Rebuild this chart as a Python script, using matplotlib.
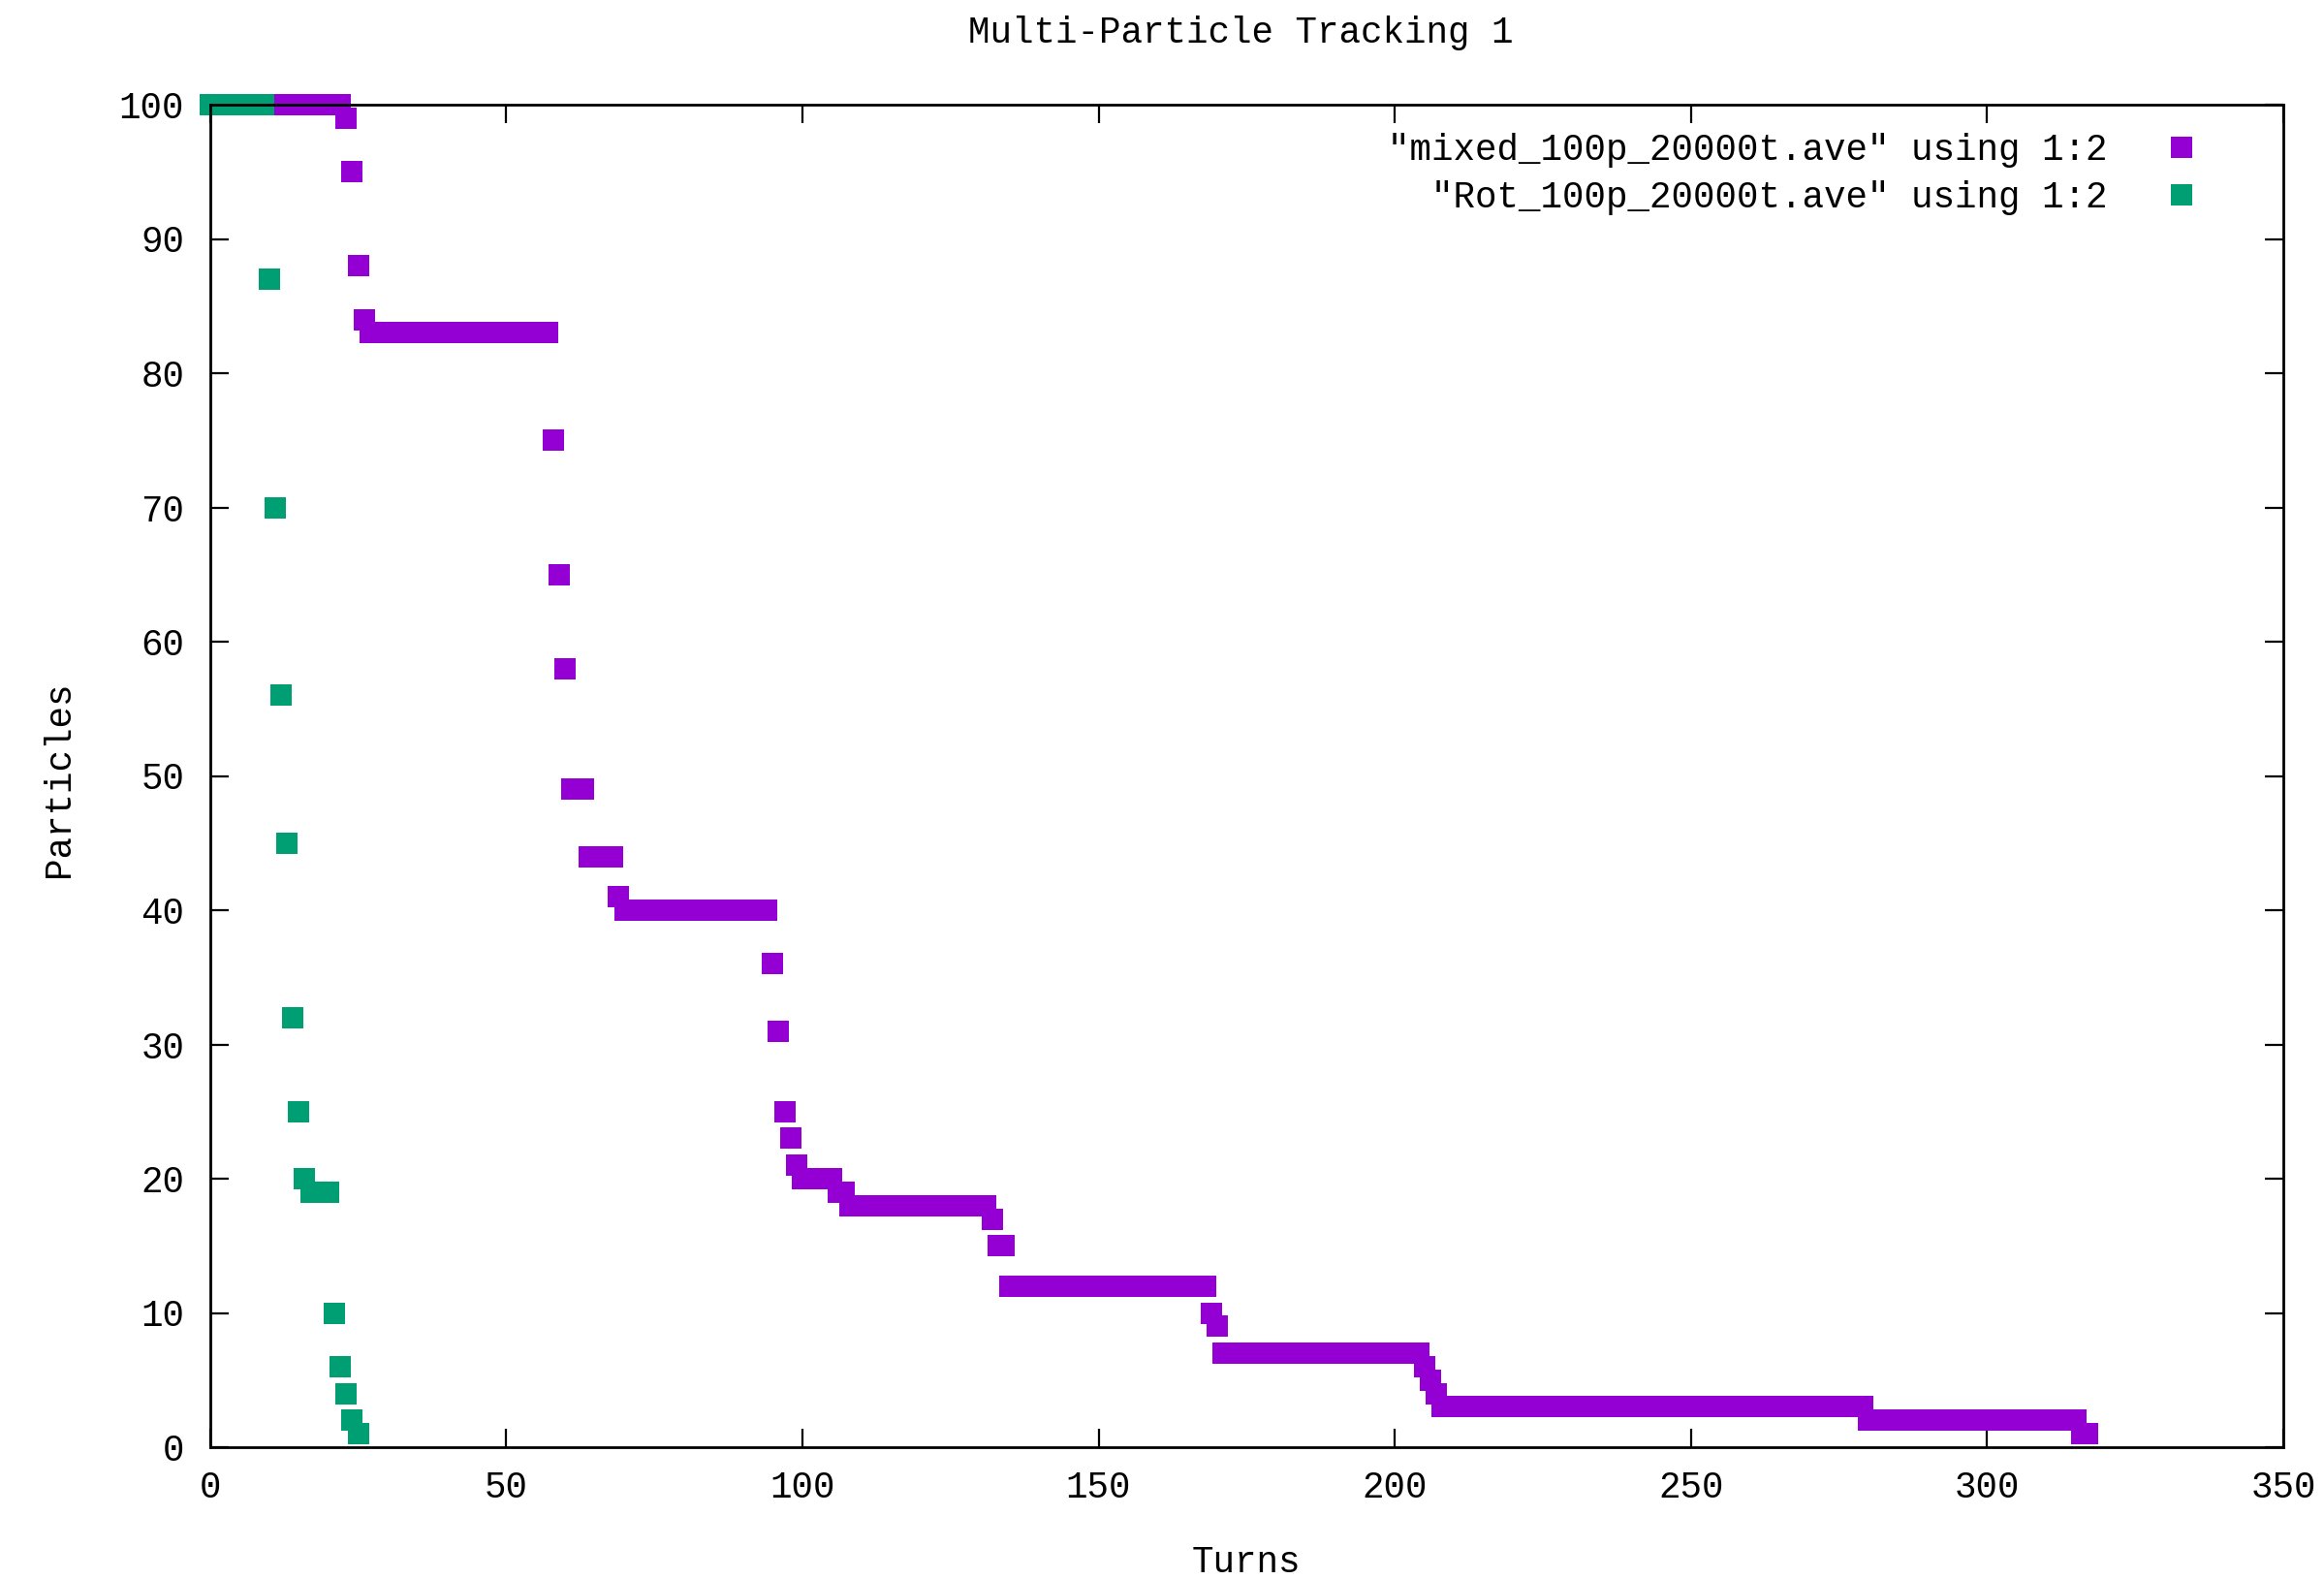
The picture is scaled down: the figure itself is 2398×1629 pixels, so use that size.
import numpy as np
import matplotlib
matplotlib.use("Agg")
import matplotlib.pyplot as plt

# ---- data (step levels and the turn each level starts) ----
mixed_label = '"mixed_100p_20000t.ave" using 1:2'
mixed_step_turns = [0, 23, 24, 25, 26, 27, 58, 59, 60, 61, 64, 69, 70, 95, 96, 97,
                    98, 99, 100, 106, 108, 132, 133, 135, 169, 170, 171, 205, 206,
                    207, 208, 280, 316]
mixed_step_levels = [100, 99, 95, 88, 84, 83, 75, 65, 58, 49, 44, 41, 40, 36, 31, 25,
                     23, 21, 20, 19, 18, 17, 15, 12, 10, 9, 7, 6, 5, 4, 3, 2, 1]
mixed_last_turn = 317

rot_label = '  "Rot_100p_20000t.ave" using 1:2'
rot_step_turns = [0, 10, 11, 12, 13, 14, 15, 16, 17, 21, 22, 23, 24, 25]
rot_step_levels = [100, 87, 70, 56, 45, 32, 25, 20, 19, 10, 6, 4, 2, 1]
rot_last_turn = 25

x_ticks = [0, 50, 100, 150, 200, 250, 300, 350]
y_ticks = [0, 10, 20, 30, 40, 50, 60, 70, 80, 90, 100]

title = "Multi-Particle Tracking 1"
xlabel = "Turns"
ylabel = "Particles"


def expand(starts, levels, last):
    """Decode run-length steps into one (turn, count) pair per turn."""
    ends = list(starts[1:]) + [last + 1]
    t, v = [], []
    for s, e, lv in zip(starts, ends, levels):
        for k in range(s, e):
            t.append(k)
            v.append(lv)
    return np.array(t), np.array(v)


mx, my = expand(mixed_step_turns, mixed_step_levels, mixed_last_turn)
rx, ry = expand(rot_step_turns, rot_step_levels, rot_last_turn)

plt.rcParams['font.family'] = ['Liberation Mono', 'DejaVu Sans Mono']
FS = 27

W, H = 2398, 1629
fig = plt.figure(figsize=(W / 100, H / 100), dpi=100)
left, right, top, bottom = 216.7, 2356, 108, 1493
ax = fig.add_axes([left / W, 1 - bottom / H, (right - left) / W, (bottom - top) / H])

purple = '#9400D3'
green = '#009E73'
ms = 16
ax.plot(mx, my, linestyle='none', marker='s', markersize=ms, color=purple,
        markeredgewidth=0, clip_on=False, label=mixed_label, zorder=2)
ax.plot(rx, ry, linestyle='none', marker='s', markersize=ms, color=green,
        markeredgewidth=0, clip_on=False, label=rot_label, zorder=2.1)

ax.set_xlim(0, 350)
ax.set_ylim(0, 100)
ax.set_xticks(x_ticks)
ax.set_yticks(y_ticks)
ax.tick_params(axis='both', which='major', direction='in', length=14, width=1.6,
               top=True, right=True, labelsize=FS, colors='black')
ax.tick_params(axis='x', pad=17)
ax.tick_params(axis='y', pad=19)
for sp in ax.spines.values():
    sp.set_linewidth(2.0)
    sp.set_zorder(3)

ax.set_xlabel(xlabel, fontsize=FS)
ax.xaxis.label.set_va('center')
ax.xaxis.set_label_coords(0.5, (bottom - 1612) / (bottom - top))
ax.set_ylabel(ylabel, fontsize=FS)
ax.yaxis.label.set_va('center')
ax.yaxis.set_label_coords((61 - left) / (right - left), 0.498)

fig.text(1280 / W, 1 - 34 / H, title, fontsize=FS, ha='center', va='center')

leg = ax.legend(loc='upper right', bbox_to_anchor=(0.9686, 0.979), frameon=False,
                markerfirst=False, numpoints=1, fontsize=FS, borderpad=0,
                borderaxespad=0, handletextpad=1.05, labelspacing=0.35,
                handlelength=2.0)

fig.savefig('out.png', dpi=100, facecolor='white')
